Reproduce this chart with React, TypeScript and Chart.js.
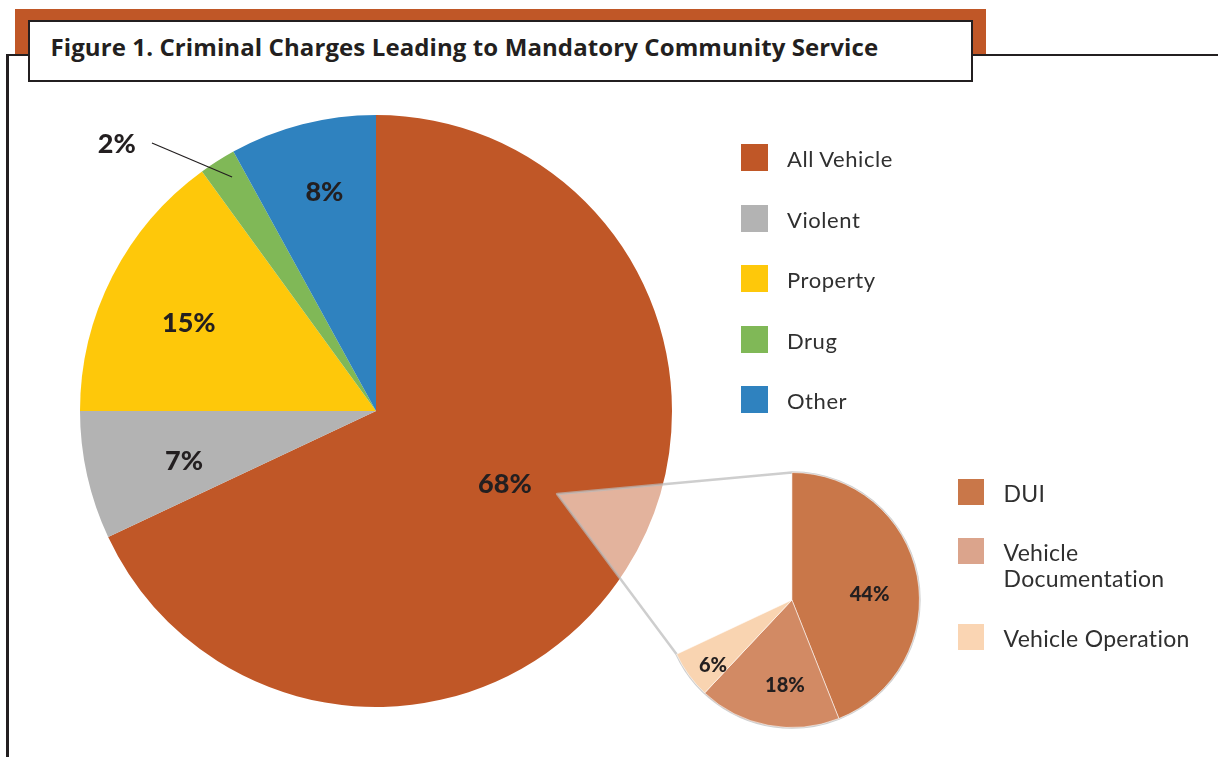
import React, { useEffect, useRef } from "react";
import { Chart, registerables } from "chart.js";

Chart.register(...registerables);

// ---------- data ----------
const titleText = "Figure 1. Criminal Charges Leading to Mandatory Community Service";
const mainCategories = ["All Vehicle", "Violent", "Property", "Drug", "Other"];
const mainValues = [68, 7, 15, 2, 8];
const subCategories = ["DUI", "Vehicle Documentation", "Vehicle Operation"];
const subLegendLines = [["DUI"], ["Vehicle", "Documentation"], ["Vehicle Operation"]];
const subValues = [44, 18, 6];

// ---------- styles ----------
const W = 1218;
const H = 757;
const INK = "#231F20";
const ORANGE = "#C05727";
const mainColors = ["#C05727", "#B3B3B3", "#FEC80A", "#80B857", "#2F82BF"];
const subColors = ["#C97749", "#D28A64", "#F9D4B1"];
const subLegendColors = ["#C97749", "#DBA48C", "#FAD5B3"];

const mainLabelStyle = {
  fontSize: 27,
  radius: [0.499, 0.669, 0.7, 0.928, 0.763],
  shift: [-3.2, -1.7, -1.6, 0.8, 1.2],
  external: { 3: { lineR: 1.18, lineShift: -7.5, textR: 1.258, textShift: -11.7 } } as Record<number, any>,
};
const subLabelStyle = {
  fontSize: 20,
  radius: [0.611, 0.666, 0.8],
  shift: [6.4, -6.1, -3.3],
  external: {} as Record<number, any>,
};
const wedgeStyle = { apexR: 0.673, apexShift: -7.8 };

function makeLabelPlugin(cfg: any) {
  return {
    id: "percentLabels",
    afterDatasetsDraw(chart: any) {
      const ctx = chart.ctx;
      const meta = chart.getDatasetMeta(0);
      const values = chart.data.datasets[0].data;
      const cap = cfg.fontSize * 0.72;
      ctx.save();
      ctx.fillStyle = INK;
      ctx.font = `900 ${cfg.fontSize}px Lato`;
      ctx.textAlign = "center";
      ctx.textBaseline = "alphabetic";
      meta.data.forEach((arc: any, i: number) => {
        const p = arc.getProps(["x", "y", "startAngle", "endAngle", "outerRadius"], true);
        const mid = (p.startAngle + p.endAngle) / 2;
        const pt = (r: number, s: number) => {
          const a = mid + (s * Math.PI) / 180;
          return [p.x + Math.cos(a) * r * p.outerRadius, p.y + Math.sin(a) * r * p.outerRadius];
        };
        const text = `${values[i]}%`;
        const ext = cfg.external[i];
        if (ext) {
          const [x1, y1] = pt(cfg.radius[i], cfg.shift[i]);
          const [x2, y2] = pt(ext.lineR, ext.lineShift);
          ctx.beginPath();
          ctx.moveTo(x1, y1);
          ctx.lineTo(x2, y2);
          ctx.strokeStyle = INK;
          ctx.lineWidth = 1.2;
          ctx.stroke();
          const [tx, ty] = pt(ext.textR, ext.textShift);
          ctx.fillText(text, tx, ty + cap / 2);
        } else {
          const [tx, ty] = pt(cfg.radius[i], cfg.shift[i]);
          ctx.fillText(text, tx, ty + cap / 2);
        }
      });
      ctx.restore();
    },
  };
}

function makeWedgePlugin(getMain: () => any) {
  return {
    id: "zoomWedge",
    beforeDatasetsDraw(chart: any) {
      const main = getMain();
      if (!main) return;
      const src = main.getDatasetMeta(0).data[0].getProps(["x", "y", "startAngle", "endAngle", "outerRadius"], true);
      const a = (src.startAngle + src.endAngle) / 2 + (wedgeStyle.apexShift * Math.PI) / 180;
      const ax = src.x + Math.cos(a) * src.outerRadius * wedgeStyle.apexR;
      const ay = src.y + Math.sin(a) * src.outerRadius * wedgeStyle.apexR;
      const arcs = chart.getDatasetMeta(0).data;
      const f = arcs[0].getProps(["x", "y", "startAngle", "outerRadius"], true);
      const l = arcs[arcs.length - 1].getProps(["endAngle"], true);
      const R = f.outerRadius;
      const ctx = chart.ctx;
      ctx.save();
      ctx.beginPath();
      ctx.moveTo(ax, ay);
      ctx.lineTo(f.x + Math.cos(f.startAngle) * R, f.y + Math.sin(f.startAngle) * R);
      ctx.arc(f.x, f.y, R, f.startAngle, l.endAngle, false);
      ctx.closePath();
      ctx.fillStyle = "rgba(255,255,255,0.55)";
      ctx.fill();
      ctx.strokeStyle = "rgba(185,185,185,0.7)";
      ctx.lineWidth = 2.5;
      ctx.lineJoin = "round";
      ctx.stroke();
      ctx.restore();
    },
  };
}

const legendFont = "Lato, 'Noto Sans', sans-serif";

function TextAt(props: {
  x: number;
  baseline: number;
  size: number;
  lh?: number;
  weight?: number;
  children: any;
  color?: string;
  family?: string;
  asc?: number;
  desc?: number;
  spacing?: number;
}) {
  const lh = props.lh ?? props.size;
  const asc = props.asc ?? 0.987;
  const desc = props.desc ?? 0.213;
  const top = props.baseline - ((lh - (asc + desc) * props.size) / 2 + asc * props.size);
  return (
    <div
      style={{
        position: "absolute",
        left: props.x,
        top,
        fontFamily: props.family ?? legendFont,
        fontSize: props.size,
        lineHeight: `${lh}px`,
        fontWeight: props.weight ?? 400,
        color: props.color ?? "#303030",
        letterSpacing: props.spacing ?? 0,
        whiteSpace: "nowrap",
      }}
    >
      {props.children}
    </div>
  );
}

export default function App() {
  const mainRef = useRef<HTMLCanvasElement>(null);
  const subRef = useRef<HTMLCanvasElement>(null);

  useEffect(() => {
    let mainChart: any = null;
    mainChart = new Chart(mainRef.current as HTMLCanvasElement, {
      type: "pie",
      data: {
        labels: mainCategories,
        datasets: [{ data: mainValues, backgroundColor: mainColors, borderWidth: 0 }],
      },
      options: {
        responsive: false,
        animation: false,
        devicePixelRatio: 1,
        events: [],
        layout: { padding: { left: 80, right: W - 672, top: 115, bottom: H - 707 } },
        plugins: { legend: { display: false }, tooltip: { enabled: false } },
      },
      plugins: [makeLabelPlugin(mainLabelStyle)],
    } as any);

    const total = mainValues.reduce((s, v) => s + v, 0);
    const subChart = new Chart(subRef.current as HTMLCanvasElement, {
      type: "pie",
      data: {
        labels: subCategories,
        datasets: [
          {
            data: subValues,
            backgroundColor: subColors,
            borderWidth: 1,
            borderColor: "rgba(255,255,255,0.55)",
          },
        ],
      },
      options: {
        responsive: false,
        animation: false,
        devicePixelRatio: 1,
        events: [],
        circumference: (mainValues[0] / total) * 360,
        rotation: 0,
        layout: { padding: { left: 673, right: W - 923, top: 472, bottom: H - 728 } },
        plugins: { legend: { display: false }, tooltip: { enabled: false } },
      },
      plugins: [makeWedgePlugin(() => mainChart), makeLabelPlugin(subLabelStyle)],
    } as any);

    return () => {
      subChart.destroy();
      mainChart.destroy();
    };
  }, []);

  const mainLegendTop = 144;
  const mainLegendStep = 60.5;
  const subBaselines = [501.7, 560.7, 646.7];

  return (
    <div style={{ position: "absolute", left: 0, top: 0, width: W, height: H, overflow: "hidden", background: "#fff" }}>
      {/* frame */}
      <div style={{ position: "absolute", left: 15, top: 9, width: 971, height: 45, background: ORANGE }} />
      <div style={{ position: "absolute", left: 6, top: 53.5, width: W - 6, height: 2.5, background: INK }} />
      <div style={{ position: "absolute", left: 6, top: 53.5, width: 2.5, height: H - 53, background: INK }} />
      <div
        style={{
          position: "absolute",
          left: 28,
          top: 20,
          width: 945,
          height: 62,
          boxSizing: "border-box",
          border: `2.5px solid ${INK}`,
          background: "#fff",
        }}
      />
      <TextAt
        x={50.5}
        baseline={56}
        size={24}
        weight={700}
        color={INK}
        family="'Open Sans', Lato, sans-serif"
        asc={1.069}
        desc={0.293}
        spacing={0.1}
      >
        {titleText}
      </TextAt>

      <canvas ref={mainRef} width={W} height={H} style={{ position: "absolute", left: 0, top: 0 }} />
      <canvas ref={subRef} width={W} height={H} style={{ position: "absolute", left: 0, top: 0 }} />

      {/* main legend */}
      {mainCategories.map((c, i) => {
        const top = mainLegendTop + i * mainLegendStep;
        return (
          <React.Fragment key={c}>
            <div style={{ position: "absolute", left: 741, top, width: 27, height: 27, background: mainColors[i] }} />
            <TextAt x={787} baseline={top + 23.7} size={22} spacing={0.55}>
              {c}
            </TextAt>
          </React.Fragment>
        );
      })}

      {/* sub legend */}
      {subLegendLines.map((lines, i) => {
        const b = subBaselines[i];
        return (
          <React.Fragment key={i}>
            <div style={{ position: "absolute", left: 957.5, top: b - 23, width: 26.5, height: 26.5, background: subLegendColors[i] }} />
            <TextAt x={1003.5} baseline={b} size={23} lh={26} spacing={0.3}>
              {lines.map((t, k) => (
                <div key={k}>{t}</div>
              ))}
            </TextAt>
          </React.Fragment>
        );
      })}
    </div>
  );
}
